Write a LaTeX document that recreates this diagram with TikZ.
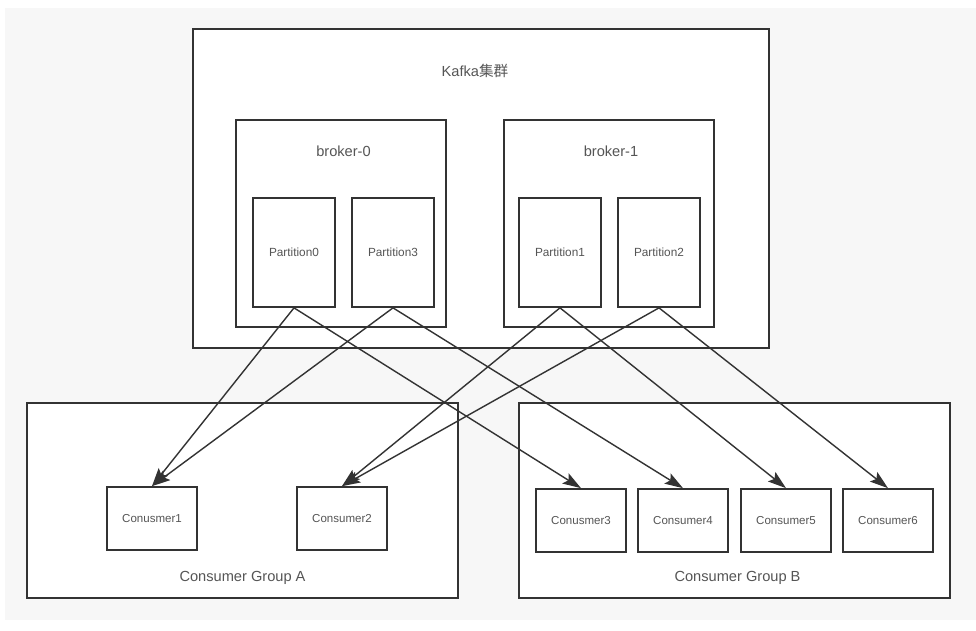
\documentclass[tikz,border=0pt]{standalone}
\usepackage{fontspec}
\setmainfont{Liberation Sans}
\newfontfamily\cjk{Noto Sans CJK SC}
\usepackage{xcolor}
\usetikzlibrary{arrows.meta, positioning}

\definecolor{linegray}{HTML}{333333}
\definecolor{textgray}{HTML}{555555}
\definecolor{canvas}{HTML}{F7F7F7}

\begin{document}
\begin{tikzpicture}[
  x=0.025cm, y=-0.025cm,
  >={Stealth[length=13pt, width=8.5pt, inset=2.5pt]},
  frame/.style={rectangle, draw=linegray, line width=1.2pt, fill=white, inner sep=0pt},
  cluster/.style={frame, minimum width=14.4cm, minimum height=7.975cm},
  broker/.style={frame, minimum width=5.25cm, minimum height=5.175cm},
  partition/.style={frame, minimum width=2.05cm, minimum height=2.725cm, font=\fontsize{8.4}{10}\selectfont, text=textgray},
  group/.style={frame, minimum width=10.775cm, minimum height=4.875cm},
  consumer/.style={frame, minimum width=2.25cm, minimum height=1.575cm, font=\fontsize{8.2}{10}\selectfont, text=textgray},
  title/.style={font=\fontsize{10.4}{12}\selectfont, text=textgray},
  arrow/.style={->, draw=linegray, line width=1pt}
]
  \useasboundingbox (0,0) rectangle (976,631);
  \fill[white] (0,0) rectangle (976,631);
  \fill[canvas] (5,8) rectangle (976,620);

  % Kafka集群
  \node[cluster] (kafka) at (481,188.5) {};
  \node[title] (kafkatitle) at (475,71) {Kafka{\cjk 集群}};

  \node[broker] (b0) at (341,223.5) {};
  \node[title] (b0title) at (343.5,151) {broker-0};
  \node[broker] (b1) at (609,223.5) {};
  \node[title] (b1title) at (611,151) {broker-1};

  \node[partition] (p0) at (294,252.5) {Partition0};
  \node[partition] (p3) at (393,252.5) {Partition3};
  \node[partition] (p1) at (560,252.5) {Partition1};
  \node[partition] (p2) at (659,252.5) {Partition2};

  % consumer groups
  \node[group] (ga) at (242.5,500.5) {};
  \node[title] (gatitle) at (242.5,578) {Consumer Group A};
  \node[group] (gb) at (734.5,500.5) {};
  \node[title] (gbtitle) at (737.5,578) {Consumer Group B};

  \node[consumer] (c1) at (152,518.5) {Conusmer1};
  \node[consumer] (c2) at (342,518.5) {Consumer2};
  \node[consumer] (c3) at (581,520.5) {Conusmer3};
  \node[consumer] (c4) at (683,520.5) {Consumer4};
  \node[consumer] (c5) at (786,520.5) {Consumer5};
  \node[consumer] (c6) at (888,520.5) {Consumer6};

  \draw[arrow] (p0.south) -- (c1.north);
  \draw[arrow] (p3.south) -- (c1.north);
  \draw[arrow] (p1.south) -- (c2.north);
  \draw[arrow] (p2.south) -- (c2.north);
  \draw[arrow] (p0.south) -- (c3.north);
  \draw[arrow] (p3.south) -- (c4.north);
  \draw[arrow] (p1.south) -- (c5.north);
  \draw[arrow] (p2.south) -- (c6.north);
\end{tikzpicture}
\end{document}
